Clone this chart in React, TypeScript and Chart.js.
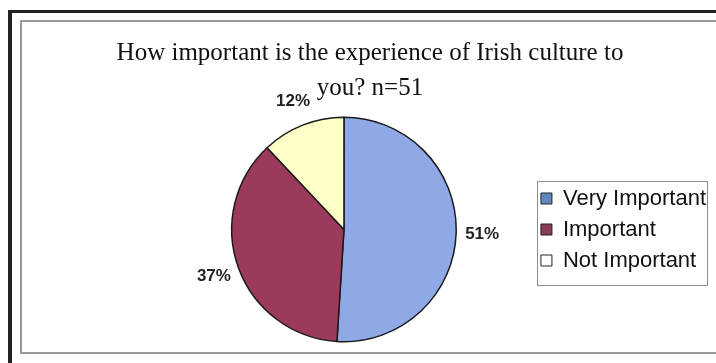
import React, { useEffect, useRef } from "react";
import { Chart, registerables } from "chart.js";

Chart.register(...registerables);

const titleLines = ["How important is the experience of Irish culture to", "you? n=51"];
const categories = ["Very Important", "Important", "Not Important"];
const percentages = [51, 37, 12];
const sliceColors = ["#8EA9E6", "#9C3A5C", "#FFFFC8"];
const legendSwatchColors = ["#5F88BE", "#8A3A58", "#FFFFFF"];

export default function App() {
  const ref = useRef<HTMLCanvasElement>(null);

  useEffect(() => {
    if (!ref.current) return;

    const framePlugin = {
      id: "frame",
      beforeDraw(chart: any) {
        const ctx = chart.ctx;
        ctx.save();
        ctx.fillStyle = "#ffffff";
        ctx.fillRect(0, 0, chart.width, chart.height);
        // outer dark border
        ctx.fillStyle = "#222222";
        ctx.fillRect(8, 10, 708, 3);
        ctx.fillRect(8, 10, 4, 353);
        // inner grey frame
        ctx.strokeStyle = "#9a9a9a";
        ctx.lineWidth = 2;
        ctx.beginPath();
        ctx.moveTo(716, 21);
        ctx.lineTo(21, 21);
        ctx.lineTo(21, 353);
        ctx.lineTo(716, 353);
        ctx.stroke();
        // legend border, around the legend's own item boxes
        const lg = chart.legend;
        if (lg && lg.legendHitBoxes && lg.legendHitBoxes.length) {
          const hb = lg.legendHitBoxes;
          const minX = Math.min(...hb.map((h: any) => h.left)) - 4;
          const maxX = Math.max(...hb.map((h: any) => h.left + h.width)) + 1;
          const minY = Math.min(...hb.map((h: any) => h.top)) - 7;
          const maxY = Math.max(...hb.map((h: any) => h.top + h.height)) + 13;
          ctx.strokeStyle = "#8c8c8c";
          ctx.lineWidth = 1;
          ctx.strokeRect(Math.round(minX) + 0.5, Math.round(minY) + 0.5, Math.round(maxX - minX), Math.round(maxY - minY));
        }
        // title
        ctx.fillStyle = "#111111";
        ctx.font = '25px "Liberation Serif", "Times New Roman", serif';
        ctx.textAlign = "center";
        ctx.textBaseline = "alphabetic";
        ctx.fillText(titleLines[0], 370, 60);
        ctx.fillText(titleLines[1], 370, 95);
        ctx.restore();
      },
    };

    const labelPlugin = {
      id: "pctLabels",
      afterDatasetsDraw(chart: any) {
        const ctx = chart.ctx;
        const meta = chart.getDatasetMeta(0);
        ctx.save();
        ctx.fillStyle = "#222222";
        ctx.font = 'bold 17px "Liberation Sans", Arial, sans-serif';
        ctx.textAlign = "center";
        ctx.textBaseline = "middle";
        meta.data.forEach((arc: any, i: number) => {
          const p = arc.getProps(["x", "y", "startAngle", "endAngle", "outerRadius"], true);
          const mid = (p.startAngle + p.endAngle) / 2;
          const d = p.outerRadius + 26;
          ctx.fillText(percentages[i] + "%", p.x + Math.cos(mid) * d, p.y + Math.sin(mid) * d);
        });
        ctx.restore();
      },
    };

    const chart = new Chart(ref.current, {
      type: "pie",
      data: {
        labels: categories,
        datasets: [
          {
            data: percentages,
            backgroundColor: sliceColors,
            borderColor: "#1a1a1a",
            borderWidth: 1.5,
            hoverOffset: 0,
            offset: 0,
          },
        ],
      },
      options: {
        responsive: false,
        animation: false,
        devicePixelRatio: 1,
        events: [],
        layout: { padding: { left: 156, right: 0, top: 116.5, bottom: 20.5 } },
        plugins: {
          title: { display: false },
          tooltip: { enabled: false },
          legend: {
            position: "right",
            fullSize: false,
            align: "center",
            labels: {
              font: { family: '"Liberation Sans", Arial, sans-serif', size: 22 },
              color: "#111111",
              boxWidth: 11,
              boxHeight: 11,
              padding: 9,
              generateLabels: (c: any) =>
                c.data.labels.map((l: string, i: number) => ({
                  text: l,
                  fillStyle: legendSwatchColors[i],
                  strokeStyle: "#222222",
                  lineWidth: 1,
                  fontColor: "#111111",
                  hidden: false,
                  index: i,
                })),
            },
          },
        },
      },
      plugins: [framePlugin, labelPlugin],
    } as any);

    return () => chart.destroy();
  }, []);

  return (
    <div style={{ position: "fixed", left: 0, top: 0, width: 716, height: 363, background: "#fff" }}>
      <canvas ref={ref} width={716} height={363} style={{ display: "block", width: 716, height: 363 }} />
    </div>
  );
}
